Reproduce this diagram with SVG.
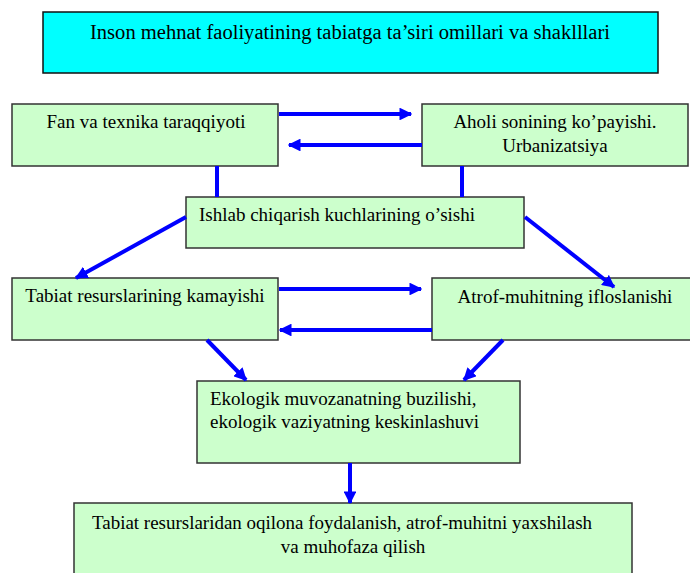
<svg xmlns="http://www.w3.org/2000/svg" width="690" height="573" viewBox="0 0 690 573">
<defs>
<style>
.box{fill:#CCFFCC;stroke:#333;stroke-width:1.5}
.title{fill:#00FFFF;stroke:#111;stroke-width:1.5}
text{font-family:"Liberation Serif","Times New Roman",serif;font-size:19px;fill:#000}
.c{text-anchor:middle}
.ln{stroke:#0000FF;stroke-width:4;fill:none}
.ar{stroke:#0000FF;stroke-width:4;fill:none;marker-end:url(#ah)}
</style>
<marker id="ah" viewBox="0 0 10 10" refX="9" refY="5" markerWidth="3.2" markerHeight="3.2" orient="auto" markerUnits="strokeWidth">
<path d="M0,0 L10,5 L0,10 Z" fill="#0000FF"/>
</marker>
</defs>
<rect width="690" height="573" fill="#fff"/>
<g id="title">
<rect class="title" x="43" y="12" width="615" height="61"/>
<text class="c" x="350" y="39" textLength="520" lengthAdjust="spacingAndGlyphs" style="font-size:20px">Inson mehnat faoliyatining tabiatga ta’siri omillari va shaklllari</text>
</g>
<g id="fan">
<rect class="box" x="12" y="104" width="266" height="62"/>
<text class="c" x="146" y="128">Fan va texnika taraqqiyoti</text>
</g>
<g id="aholi">
<rect class="box" x="422" y="104" width="266" height="62"/>
<text class="c" x="555" y="128">Aholi sonining ko’payishi.</text>
<text class="c" x="555" y="152">Urbanizatsiya</text>
</g>
<g id="ishlab">
<rect class="box" x="186" y="197" width="338" height="51"/>
<text x="199" y="221">Ishlab chiqarish kuchlarining o’sishi</text>
</g>
<g id="tabiat">
<rect class="box" x="12" y="278" width="266" height="62"/>
<text class="c" x="145" y="302">Tabiat resurslarining kamayishi</text>
</g>
<g id="atrof">
<rect class="box" x="432" y="278" width="262" height="62"/>
<text class="c" x="565" y="303">Atrof-muhitning ifloslanishi</text>
</g>
<g id="ekologik">
<rect class="box" x="197" y="381" width="323" height="82"/>
<text x="210" y="405">Ekologik muvozanatning buzilishi,</text>
<text x="210" y="428">ekologik vaziyatning keskinlashuvi</text>
</g>
<g id="oqilona">
<rect class="box" x="74" y="503" width="558" height="75"/>
<text class="c" x="342" y="529" textLength="500" lengthAdjust="spacingAndGlyphs">Tabiat resurslaridan oqilona foydalanish, atrof-muhitni yaxshilash</text>
<text class="c" x="353" y="553">va muhofaza qilish</text>
</g>
<g id="connectors">
<line class="ar" x1="279" y1="114" x2="411" y2="114"/>
<line class="ar" x1="422" y1="145" x2="289" y2="145"/>
<line class="ln" x1="217" y1="166" x2="217" y2="197"/>
<line class="ln" x1="462" y1="166" x2="462" y2="197"/>
<line class="ar" x1="186" y1="217" x2="76" y2="278"/>
<line class="ar" x1="525" y1="217" x2="614" y2="287"/>
<line class="ar" x1="279" y1="289" x2="421" y2="289"/>
<line class="ar" x1="432" y1="330" x2="280" y2="330"/>
<line class="ar" x1="207" y1="340" x2="246" y2="380"/>
<line class="ar" x1="503" y1="340" x2="464" y2="380"/>
<line class="ar" x1="350" y1="463" x2="350" y2="503"/>
</g>
</svg>
